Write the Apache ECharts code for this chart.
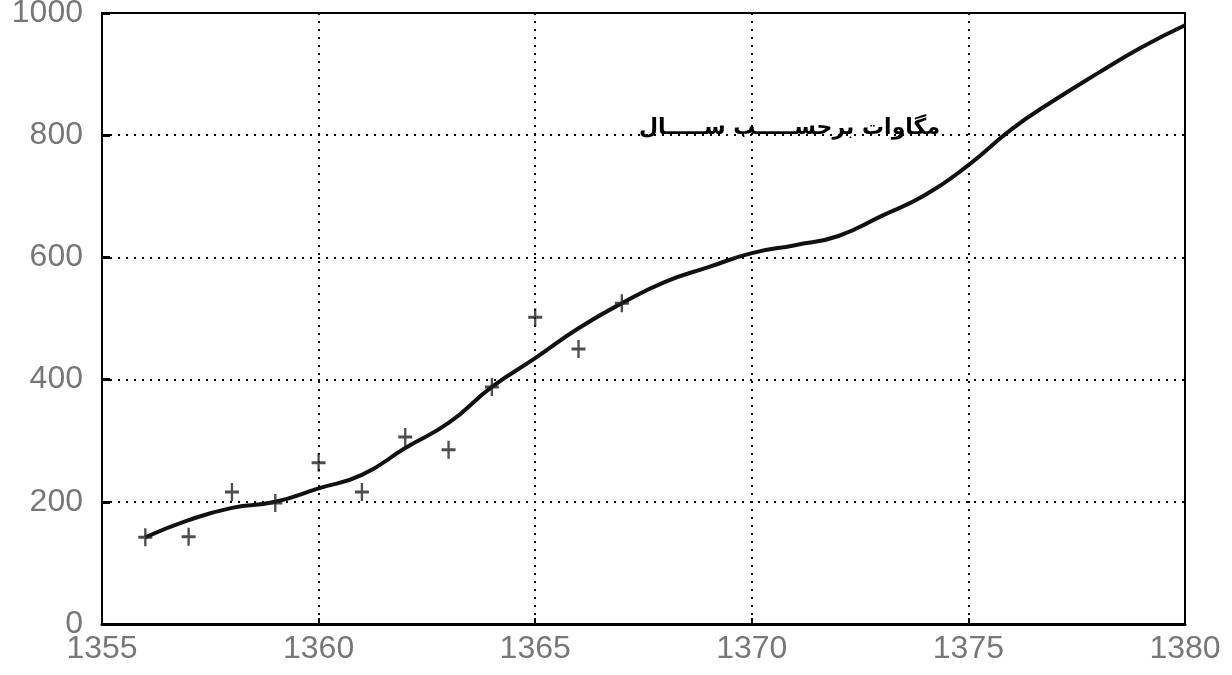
<!DOCTYPE html>
<html>
<head>
<meta charset="utf-8">
<script src="https://cdn.jsdelivr.net/npm/echarts@6/dist/echarts.min.js"></script>
<style>
  html, body { margin: 0; padding: 0; background: #fff; }
  #chart { width: 1232px; height: 675px; }
</style>
</head>
<body>
<div id="chart"></div>
<script>
// سال‌ها و مقادیر اندازه‌گیری شده (نقاط +)
const pointYears = [1356, 1357, 1358, 1359, 1360, 1361, 1362, 1363, 1364, 1365, 1366, 1367];
const pointValues = [142, 143, 216, 198, 264, 216, 306, 285, 388, 502, 450, 525];

// منحنی برازش شده
const curveYears = [1356, 1357, 1358, 1359, 1360, 1361, 1362, 1363, 1364, 1365, 1366, 1367, 1368,
  1369, 1370, 1371, 1372, 1373, 1374, 1375, 1376, 1377, 1378, 1379, 1380];
const curveValues = [142, 170, 190, 200, 222, 244, 288, 329, 388, 435, 484, 525, 560,
  584, 607, 620, 635, 668, 702, 751, 810, 858, 902, 944, 980];

const xTicks = [1355, 1360, 1365, 1370, 1375, 1380];
const yTicks = [0, 200, 400, 600, 800, 1000];
const curveLabel = "مگاوات برحســـــب ســـــال";

const chart = echarts.init(document.getElementById("chart"));

const tickFont = {
  color: "#777",
  fontFamily: "'Liberation Sans', sans-serif",
  fontSize: 32
};
const gridDots = { color: "#000", width: 2, type: [2, 6] };

chart.setOption({
  animation: false,
  grid: {
    left: 102, right: 47, top: 13, bottom: 51,
    outerBoundsMode: "none",
    containLabel: false,
    show: true, borderColor: "#000", borderWidth: 2
  },
  xAxis: {
    type: "value",
    min: xTicks[0],
    max: xTicks[xTicks.length - 1],
    interval: 5,
    axisLine: { show: true, lineStyle: { color: "#000", width: 3 } },
    axisTick: { show: true, inside: true, length: 6, lineStyle: { color: "#000", width: 2 } },
    axisLabel: { ...tickFont, margin: 9, formatter: (v) => String(v) },
    splitLine: { show: true, lineStyle: gridDots }
  },
  yAxis: {
    type: "value",
    min: yTicks[0],
    max: yTicks[yTicks.length - 1],
    interval: 200,
    axisLine: { show: true, lineStyle: { color: "#000", width: 2 } },
    axisTick: { show: true, inside: true, length: 8, lineStyle: { color: "#000", width: 3 } },
    axisLabel: { ...tickFont, margin: 19, formatter: (v) => String(v) },
    splitLine: { show: true, lineStyle: gridDots }
  },
  series: [
    {
      type: "line",
      data: curveYears.map((y, i) => [y, curveValues[i]]),
      smooth: true,
      showSymbol: false,
      lineStyle: { color: "#111", width: 4 },
      z: 3
    },
    {
      type: "scatter",
      data: pointYears.map((y, i) => [y, pointValues[i]]),
      symbol: "path://M5 0H7V5H12V7H7V12H5V7H0V5H5Z",
      symbolSize: [14, 18],
      itemStyle: { color: "#222" },
      z: 4
    }
  ],
  graphic: [
    {
      type: "text",
      right: 1232 - 940,
      top: 117,
      style: {
        text: curveLabel,
        font: 'bold 22px "DejaVu Sans"',
        fill: "#000"
      },
      z: 10
    }
  ]
});
</script>
</body>
</html>
